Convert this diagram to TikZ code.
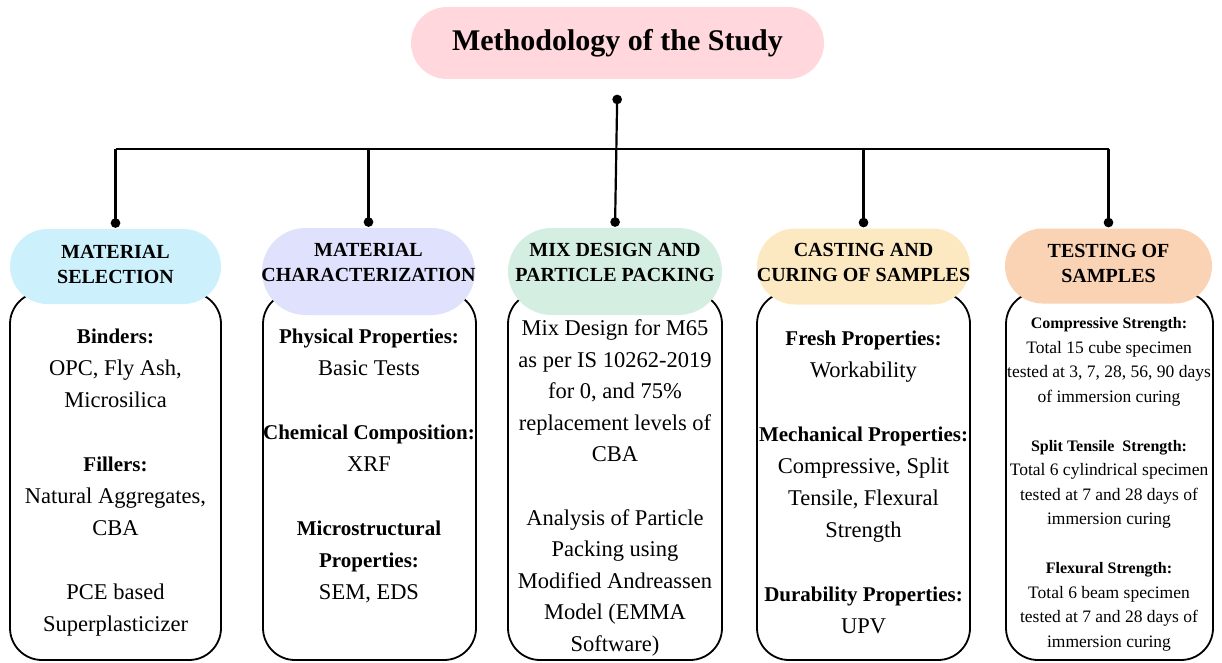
\documentclass[tikz,border=0pt]{standalone}
\usepackage{fontspec}
\setmainfont{Liberation Serif}
\usepackage{xcolor}
\usetikzlibrary{
  arrows.meta,
  shapes.misc
}
\definecolor{titlepink}{HTML}{FFD7DD}
\definecolor{hdcyan}{HTML}{CCF0FC}
\definecolor{hdlav}{HTML}{E0E1FC}
\definecolor{hdmint}{HTML}{D4EFE2}
\definecolor{hdcream}{HTML}{FDE9C1}
\definecolor{hdpeach}{HTML}{FAD3B4}
\newcommand{\lbl}[1]{{\fontsize{21}{32}\selectfont\bfseries #1}}
\newcommand{\slbl}[1]{{\fontsize{16}{24.5}\selectfont\bfseries #1}}

\begin{document}
\begin{tikzpicture}[x=1pt, y=-1pt,
  every node/.style={align=center},
  pill/.style={rounded rectangle, inner sep=0pt},
  bodybox/.style={draw, line width=1.8pt, rounded corners=32pt, minimum height=368pt, inner sep=0pt},
  hdtext/.style={font=\fontsize{20}{25}\selectfont\bfseries, inner sep=0pt},
  bodytext/.style={font=\fontsize{22.5}{32}\selectfont, inner sep=0pt},
  smalltext/.style={font=\fontsize{17.5}{24.5}\selectfont, inner sep=0pt},
  conn/.style={line width=2.2pt},
  dotend/.style={-{Circle[length=9.5pt]}},
  dotboth/.style={{Circle[length=9.5pt]}-{Circle[length=9.5pt]}}]
  \useasboundingbox (0,0) rectangle (1222,663);

  % title
  \node[pill, fill=titlepink, minimum width=413pt, minimum height=72pt,
        font=\fontsize{30}{34}\selectfont\bfseries] (title) at (617.5,43) {Methodology of the Study};

  % body boxes
  \node[bodybox, minimum width=211pt] (bx1) at (115.5,476) {};
  \node[bodybox, minimum width=213pt] (bx2) at (369.5,476) {};
  \node[bodybox, minimum width=214pt] (bx3) at (615,476) {};
  \node[bodybox, minimum width=213pt] (bx4) at (863.5,476) {};
  \node[bodybox, minimum width=207pt] (bx5) at (1109.5,476) {};

  % header pills
  \node[pill, fill=hdcyan, minimum width=211pt, minimum height=75pt] (hd1) at (115.5,266.5) {};
  \node[pill, fill=hdlav, minimum width=213pt, minimum height=87pt] (hd2) at (368.5,271.5) {};
  \node[pill, fill=hdmint, minimum width=214pt, minimum height=87pt] (hd3) at (615,271.5) {};
  \node[pill, fill=hdcream, minimum width=213pt, minimum height=76pt] (hd4) at (863.5,266.5) {};
  \node[pill, fill=hdpeach, minimum width=207pt, minimum height=75pt] (hd5) at (1108.5,266) {};

  \node[hdtext] (ht1) at (115.5,264) {MATERIAL\\SELECTION};
  \node[hdtext] (ht2) at (368.5,262.5) {MATERIAL\\CHARACTERIZATION};
  \node[hdtext] (ht3) at (615,262.5) {MIX DESIGN AND\\PARTICLE PACKING};
  \node[hdtext] (ht4) at (863.5,262.5) {CASTING AND\\CURING OF SAMPLES};
  \node[hdtext] (ht5) at (1108.5,263) {TESTING OF\\SAMPLES};

  % body texts
  \node[bodytext] (tx1) at (115.5,483) {\lbl{Binders:}\\OPC, Fly Ash,\\Microsilica\\[32pt]
    \lbl{Fillers:}\\Natural Aggregates,\\CBA\\[32pt]PCE based\\Superplasticizer};
  \node[bodytext] (tx2) at (369,466) {\lbl{Physical Properties:}\\Basic Tests\\[32pt]
    \lbl{Chemical Composition:}\\XRF\\[32pt]\lbl{Microstructural}\\\lbl{Properties:}\\SEM, EDS};
  \node[bodytext, font=\fontsize{22.5}{31.5}\selectfont] (tx3) at (615,488) {Mix Design for M65\\as per IS 10262-2019\\for 0, and 75\%\\replacement levels of\\CBA\\[32pt]
    Analysis of Particle\\Packing using\\Modified Andreassen\\Model (EMMA\\Software)};
  \node[bodytext] (tx4) at (863.5,482) {\lbl{Fresh Properties:}\\Workability\\[32pt]
    \lbl{Mechanical Properties:}\\Compressive, Split\\Tensile, Flexural\\Strength\\[32pt]
    \lbl{Durability Properties:}\\UPV};
  \node[smalltext] (tx5) at (1109,484.5) {\slbl{Compressive Strength:}\\
    Total 15 cube specimen\\tested at 3, 7, 28, 56, 90 days\\of immersion curing\\[24.5pt]
    \slbl{Split Tensile\ \ Strength:}\\
    Total 6 cylindrical specimen\\tested at 7 and 28 days of\\immersion curing\\[24.5pt]
    \slbl{Flexural Strength:}\\
    Total 6 beam specimen\\tested at 7 and 28 days of\\immersion curing};

  % connectors
  \coordinate (busL) at (115.5,149);
  \coordinate (busR) at (1108.5,149);
  \draw[conn] (busL) -- (busR);
  \draw[conn, dotboth, shorten <=15.5pt, shorten >=1pt] (title.south) -- (hd3.north);
  \foreach \i in {1,2,4,5}
    \draw[conn, dotend, shorten >=1pt] (hd\i.north |- busL) -- (hd\i.north);
\end{tikzpicture}
\end{document}
